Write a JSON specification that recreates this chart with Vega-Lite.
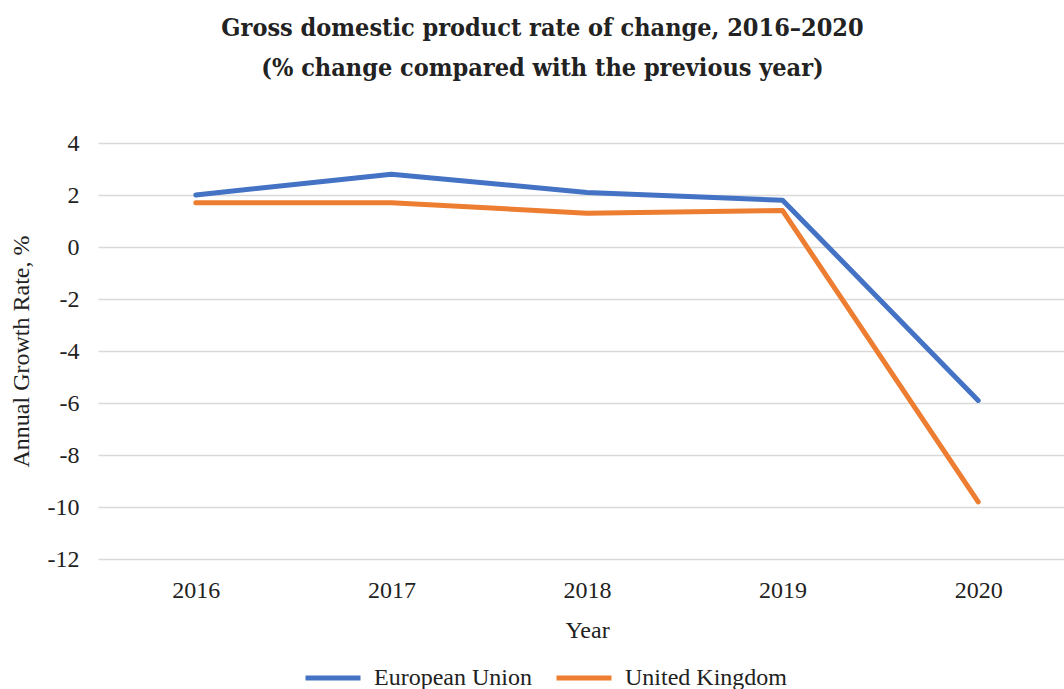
{
  "$schema": "https://vega.github.io/schema/vega-lite/v6.json",
  "width": 966,
  "height": 416,
  "autosize": {"type": "none"},
  "padding": {"left": 98, "top": 143, "right": 0, "bottom": 130},
  "background": "white",
  "title": {
    "text": ["Gross domestic product rate of change, 2016–2020", "(% change compared with the previous year)"],
    "font": "DejaVu Serif Condensed",
    "fontSize": 25,
    "fontWeight": "bold",
    "color": "#222222",
    "lineHeight": 40,
    "anchor": "middle",
    "frame": "bounds",
    "offset": 50
  },
  "data": {
    "values": [
      {"Year": "2016", "Series": "European Union", "Value": 2.0},
      {"Year": "2017", "Series": "European Union", "Value": 2.8},
      {"Year": "2018", "Series": "European Union", "Value": 2.1},
      {"Year": "2019", "Series": "European Union", "Value": 1.8},
      {"Year": "2020", "Series": "European Union", "Value": -5.9},
      {"Year": "2016", "Series": "United Kingdom", "Value": 1.7},
      {"Year": "2017", "Series": "United Kingdom", "Value": 1.7},
      {"Year": "2018", "Series": "United Kingdom", "Value": 1.3},
      {"Year": "2019", "Series": "United Kingdom", "Value": 1.4},
      {"Year": "2020", "Series": "United Kingdom", "Value": -9.8}
    ]
  },
  "mark": {"type": "line", "strokeWidth": 5, "strokeCap": "round", "strokeJoin": "round"},
  "encoding": {
    "x": {
      "field": "Year",
      "type": "ordinal",
      "scale": {"type": "point", "padding": 0.5, "range": [0, 978]},
      "axis": {
        "title": "Year",
        "labelAngle": 0,
        "domain": false,
        "ticks": false,
        "grid": false,
        "labelPadding": 19,
        "titlePadding": 16,
        "labelFont": "Liberation Serif",
        "labelFontSize": 24,
        "labelColor": "#222222",
        "titleFont": "Liberation Serif",
        "titleFontSize": 24,
        "titleFontWeight": "normal",
        "titleColor": "#222222"
      }
    },
    "y": {
      "field": "Value",
      "type": "quantitative",
      "scale": {"domain": [-12, 4], "nice": false, "zero": false},
      "axis": {
        "title": "Annual Growth Rate, %",
        "values": [-12, -10, -8, -6, -4, -2, 0, 2, 4],
        "labelExpr": "toString(datum.value)",
        "domain": false,
        "ticks": false,
        "grid": true,
        "gridColor": "#D9D9D9",
        "gridWidth": 1.5,
        "labelPadding": 19,
        "labelFont": "Liberation Serif",
        "labelFontSize": 24,
        "labelColor": "#222222",
        "titleFont": "Liberation Serif",
        "titleFontSize": 24,
        "titleFontWeight": "normal",
        "titleColor": "#222222",
        "titlePadding": 14
      }
    },
    "color": {
      "field": "Series",
      "type": "nominal",
      "scale": {"domain": ["European Union", "United Kingdom"], "range": ["#4472C4", "#ED7D31"]},
      "legend": {
        "title": null,
        "orient": "none",
        "legendX": 205,
        "legendY": 505,
        "direction": "horizontal",
        "symbolType": "stroke",
        "symbolSize": 3025,
        "symbolStrokeWidth": 5,
        "labelFont": "Liberation Serif",
        "labelFontSize": 24,
        "labelColor": "#222222",
        "labelLimit": 400,
        "columnPadding": 14,
        "labelOffset": 11
      }
    }
  },
  "config": {"view": {"stroke": null}}
}
